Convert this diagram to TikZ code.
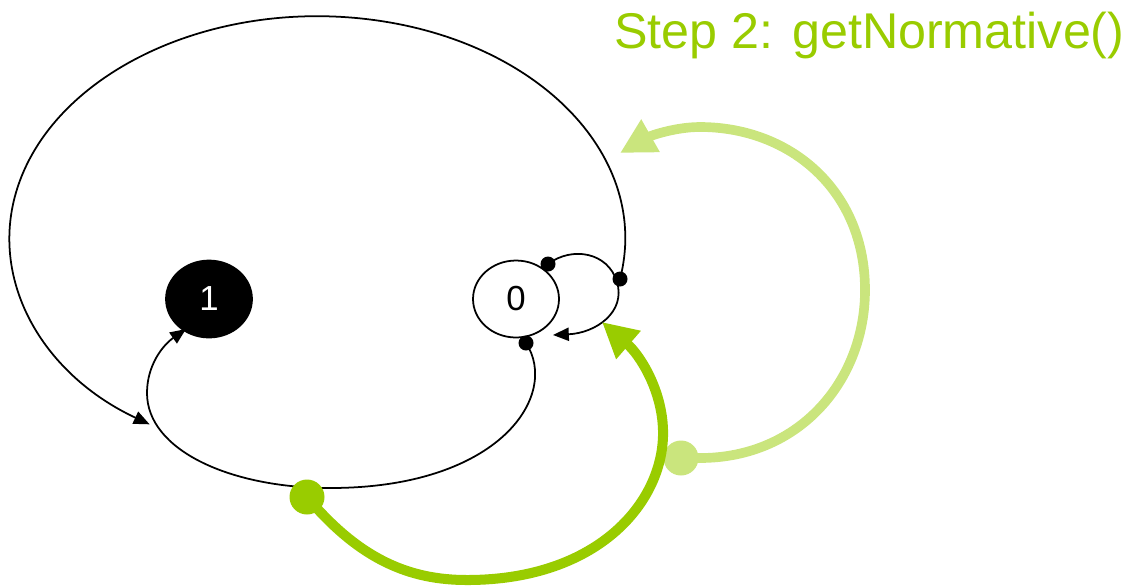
\documentclass[tikz,border=0pt]{standalone}
\usepackage{fontspec}
\setmainfont{Liberation Sans}
\usetikzlibrary{arrows.meta,shapes.geometric}
\definecolor{pgreen}{RGB}{153,204,0}
\definecolor{lgreen}{RGB}{202,229,125}
\tikzset{
  state/.style={ellipse, draw=black, line width=1pt, minimum width=1.72cm, minimum height=1.54cm, inner sep=0pt, font=\fontsize{19.8}{22}\selectfont},
  edge/.style={line width=1pt, -{Triangle[length=9pt,width=7.5pt]}},
  blackdot/.style={fill=black},
  thickarrow/.style={line width=5.7pt, -{Triangle[length=20pt,width=20pt]}},
}
\begin{document}
\begin{tikzpicture}[x=0.02cm,y=-0.02cm]
\useasboundingbox (0,0) rectangle (1131,586);
% title
\node[anchor=base west, inner sep=0pt, text=pgreen, font=\fontsize{28.6}{32}\selectfont] (title) at (614,48) {Step 2: getNormative()};
% states
\node[state, fill=black, text=white] (n1) at (209,299) {1};
\node[state, fill=white] (n0) at (516,299) {0};
% coordinates of edge starts
\coordinate (s1) at (548,264);
\coordinate (s2) at (620,279);
\coordinate (s3) at (526,343);
\coordinate (g1) at (307,497);
\coordinate (g2) at (681,458);
% self loop on 0
\draw[edge] (s1) .. controls (572,246) and (608,252) .. (617,282) .. controls (626,312) and (596,333) .. (553,335);
% big loop
\draw[edge] (s2) arc[start angle=-10.6, end angle=237, x radius=6.16cm, y radius=4.44cm];
% lower edge to 1
\draw[edge] (s3) .. controls (560,395) and (500,488) .. (330,488) .. controls (230,488) and (147,450) .. (147,393) .. controls (147,365) and (163,345) .. (186,329);
% dots
\fill[blackdot] (s1) circle[radius=0.15cm];
\fill[blackdot] (s2) circle[radius=0.15cm];
\fill[blackdot] (s3) circle[radius=0.15cm];
% light green arrow
\draw[thickarrow, draw=lgreen, line width=5.5pt] (g2) -- (700,458) .. controls (800,458) and (865,380) .. (865,290) .. controls (865,190) and (790,127) .. (700,127) .. controls (675,127) and (650,136) .. (620,153);
\fill[lgreen] (g2) circle[radius=0.35cm];
% dark green arrow
\draw[thickarrow, draw=pgreen] (g1) .. controls (360,560) and (410,580) .. (467,580) .. controls (600,580) and (665,500) .. (663,430) .. controls (662,390) and (640,355) .. (602,322);
\fill[pgreen] (g1) circle[radius=0.35cm];
\end{tikzpicture}
\end{document}
